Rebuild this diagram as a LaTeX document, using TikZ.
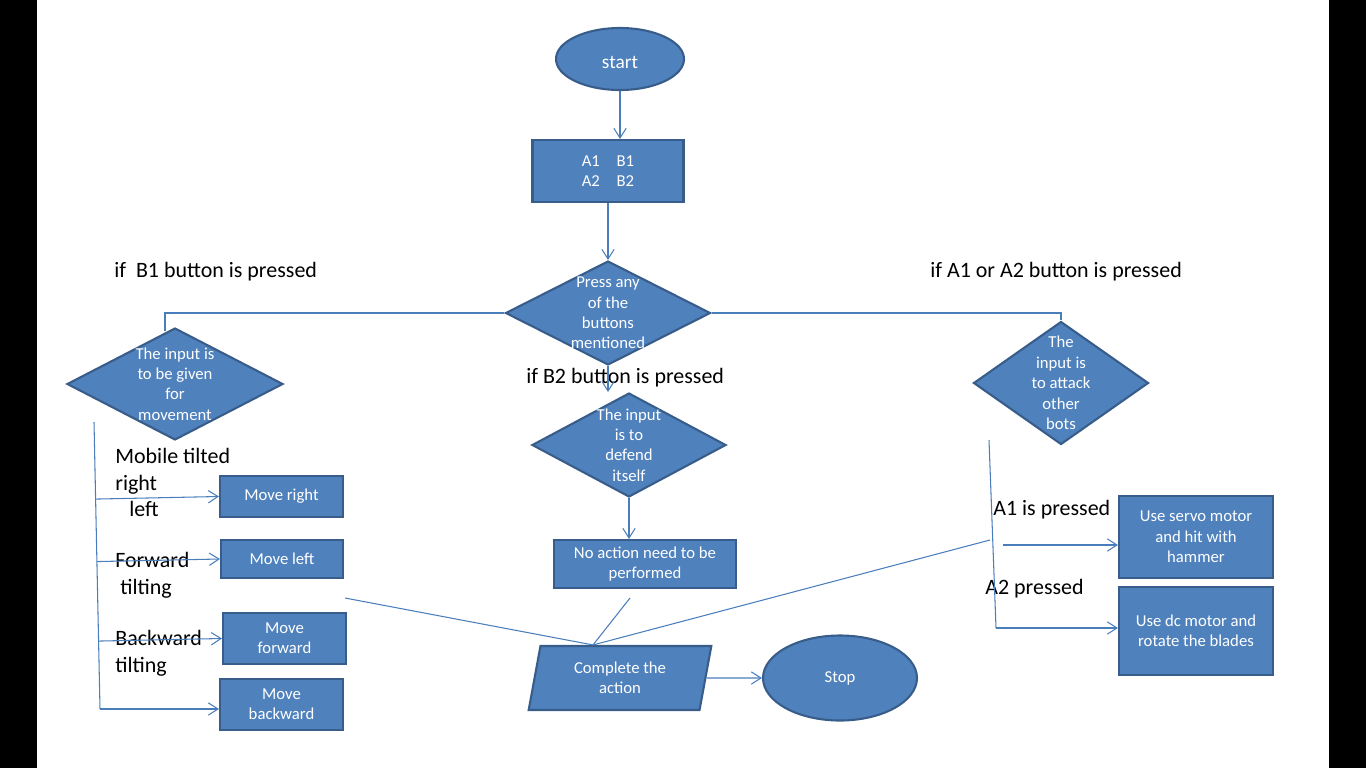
\documentclass[tikz,border=0pt]{standalone}
\usepackage{fontspec}
\setmainfont{Carlito}
\usetikzlibrary{shapes.geometric, arrows.meta, calc}
\definecolor{boxfill}{HTML}{4F81BD}
\definecolor{boxedge}{HTML}{385D8A}
\definecolor{linkblue}{HTML}{4A7EBB}

\begin{document}
\begin{tikzpicture}[x=0.02cm, y=-0.02cm]
% Styles
\tikzstyle{startstop} = [ellipse, draw=boxedge, line width=1.2pt, fill=boxfill, text=white, font=\fontsize{9.5}{11.6}\selectfont, align=center, inner sep=0pt]
\tikzstyle{process} = [rectangle, draw=boxedge, line width=1.2pt, fill=boxfill, text=white, font=\fontsize{9.5}{11.6}\selectfont, align=center, inner sep=0pt]
\tikzstyle{decision} = [diamond, draw=boxedge, line width=1.2pt, fill=boxfill, inner sep=0pt]
\tikzstyle{dtext} = [text=white, font=\fontsize{9.5}{11.6}\selectfont, align=center, inner sep=0pt]
\tikzstyle{io} = [trapezium, trapezium left angle=78, trapezium right angle=102, trapezium stretches=true, draw=boxedge, line width=1.2pt, fill=boxfill, text=white, font=\fontsize{9.5}{11.6}\selectfont, align=center, inner sep=0pt]
\tikzstyle{note} = [font=\fontsize{12.5}{15.2}\selectfont, align=left, inner sep=0pt, anchor=west, yshift=-0.05cm]
\tikzstyle{link} = [linkblue, line width=0.6pt]
\tikzstyle{arrow} = [link, -{Straight Barb[length=5.5pt,width=7pt]}]

\useasboundingbox (0,0) rectangle (1366,768);
\fill[black] (0,0) rectangle (37,768);
\fill[black] (1329,0) rectangle (1366,768);

\node (start) [startstop, minimum width=2.56cm, minimum height=1.24cm, font=\fontsize{11}{13}\selectfont] at (620,59) {\raisebox{-0.18cm}[0pt][0pt]{start}};
\node (keys) [process, minimum width=3.02cm, minimum height=1.24cm] at (608,171) {A1\quad B1\\A2\quad B2};
\node (press) [decision, minimum width=4.1cm, minimum height=2.08cm, label={[dtext]center:Press any\\of the\\buttons\\mentioned}] at (608,313) {};
\node (move) [decision, minimum width=4.32cm, minimum height=2.24cm, label={[dtext]center:The input is\\to be given\\for\\movement}] at (175,384) {};
\node (defend) [decision, minimum width=3.88cm, minimum height=2.08cm, label={[dtext]center:The input\\is to\\defend\\itself}] at (629,445) {};
\node (attack) [decision, minimum width=3.5cm, minimum height=2.46cm, label={[dtext]center:The\\input is\\to attack\\other\\bots}] at (1061,383) {};
\node (noaction) [process, minimum width=3.64cm, minimum height=0.96cm] at (645,564) {No action need to be\\performed};
\node (complete) [io, minimum width=3.66cm, minimum height=1.28cm] at (620,678) {Complete the\\action};
\node (stop) [startstop, minimum width=3.08cm, minimum height=1.7cm] at (840,678) {Stop};

\node (right) [process, minimum width=2.46cm, minimum height=0.82cm] at (281.5,496.5) {Move right};
\node (left) [process, minimum width=2.44cm, minimum height=0.76cm] at (282,559) {Move left};
\node (forward) [process, minimum width=2.46cm, minimum height=1.02cm] at (284.5,638.5) {Move\\forward};
\node (backward) [process, minimum width=2.46cm, minimum height=1.02cm] at (281.5,704.5) {Move\\backward};
\node (servo) [process, minimum width=3.08cm, minimum height=1.64cm] at (1196,537) {Use servo motor\\and hit with\\hammer};
\node (dc) [process, minimum width=3.08cm, minimum height=1.76cm] at (1196,631) {Use dc motor and\\rotate the blades};

% Labels
\node (ifb1) [note] at (114,269) {if\ \ B1 button is pressed};
\node (ifa) [note] at (930,269) {if A1 or A2 button is pressed};
\node (ifb2) [note] at (526,375) {if B2 button is pressed};
\node (tiltside) [note] at (115,480) {Mobile tilted\\right\\\hspace*{0.28cm}left};
\node (tiltfwd) [note] at (115,573) {Forward\\\hspace*{0.1cm}tilting};
\node (tiltback) [note] at (115,651) {Backward\\tilting};
\node (a1) [note] at (993,507) {A1 is pressed};
\node (a2) [note] at (985,586) {A2 pressed};

\draw [arrow] (start.south) -- (start.south |- keys.north);
\draw [arrow] (keys) -- (press);
\draw [link] (press.west) -| ([xshift=-0.2cm, yshift=-0.08cm]move.north);
\draw [link] (press.east) -| (attack.north);
\draw [arrow] (press.south) -- (press.south |- defend.north);
\draw [arrow] (defend.south) -- (defend.south |- noaction.north);
\draw [arrow] (complete) -- (stop);

% left branches
\coordinate (ltop) at (94,422);
\coordinate (lbot) at (100,709);
\draw [link] (ltop) -- (lbot);
\foreach \n in {right, left, forward}
  \draw [arrow] ($(ltop)!(\n.west)!(lbot)$) -- (\n.west);
\draw [arrow] (lbot) -- (lbot -| backward.west);

% right branches
\coordinate (rtop) at (989,440);
\coordinate (rbot) at (996,628);
\coordinate (afree) at (1003,545);
\draw [link] (rtop) -- (rbot);
\draw [arrow] (rbot) -- (rbot -| dc.west);
\draw [arrow] (afree) -- (afree -| servo.west);

% lines into the last step
\coordinate (join) at ([xshift=-0.54cm]complete.north);
\coordinate (lfree) at (345,598);
\coordinate (nfree) at (630,598);
\coordinate (rfree) at (990,540);
\draw [link] (lfree) -- (join);
\draw [link] (nfree) -- (join);
\draw [link] (rfree) -- (join);

\end{tikzpicture}
\end{document}
